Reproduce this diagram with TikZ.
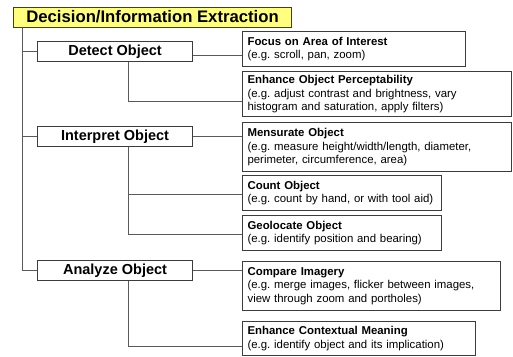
\documentclass[tikz,border=0pt]{standalone}
\usepackage{fontspec}
\setmainfont{Liberation Sans}
\frenchspacing
\definecolor{titlefill}{RGB}{255,255,125}
\definecolor{boxline}{RGB}{60,60,60}
\definecolor{wire}{RGB}{90,90,90}
\begin{document}
\begin{tikzpicture}[x=1pt,y=-1pt,
  titlebox/.style={draw=boxline,line width=1.1pt,fill=titlefill,anchor=north west,
    minimum width=278pt,minimum height=20pt,inner sep=0pt,
    font=\fontsize{16.7}{18}\selectfont\bfseries},
  stagebox/.style={draw=boxline,line width=1.1pt,fill=white,anchor=north west,
    minimum width=155pt,minimum height=20pt,inner sep=0pt,
    font=\fontsize{14.5}{16}\selectfont\bfseries},
  taskbox/.style={draw=boxline,line width=1.1pt,fill=white,anchor=north west,
    inner xsep=5pt,inner ysep=0pt,align=left,
    font=\fontsize{11.4}{13.5}\selectfont\frenchspacing},
  wireline/.style={draw=wire,line width=1.3pt}]
\useasboundingbox (0,0) rectangle (513,356);

% bold first line of every task box
\newcommand{\taskhead}[1]{\textbf{#1}}

\node[titlebox] (title) at (13,6.5) {Decision/Information Extraction};

\node[stagebox] (detect)    at (37,41)  {Detect Object};
\node[stagebox] (interpret) at (37,126) {Interpret Object};
\node[stagebox] (analyze)   at (37,260) {Analyze Object};

\node[taskbox,text width=213pt,minimum height=35pt] (focus) at (242,31)
  {\taskhead{Focus on Area of Interest}\\(e.g. scroll, pan, zoom)};
\node[taskbox,text width=259pt,minimum height=45pt] (enhance) at (242,71)
  {\taskhead{Enhance Object Perceptability}\\(e.g. adjust contrast and brightness, vary\\histogram and saturation, apply filters)};
\node[taskbox,text width=259pt,minimum height=49pt] (mensurate) at (242,122)
  {\taskhead{Mensurate Object}\\(e.g. measure height/width/length, diameter,\\perimeter, circumference, area)};
\node[taskbox,text width=189pt,minimum height=35pt] (count) at (242,175)
  {\taskhead{Count Object}\\(e.g. count by hand, or with tool aid)};
\node[taskbox,text width=189pt,minimum height=35pt] (geolocate) at (242,215)
  {\taskhead{Geolocate Object}\\(e.g. identify position and bearing)};
\node[taskbox,text width=248pt,minimum height=49pt] (compare) at (242,261)
  {\taskhead{Compare Imagery}\\(e.g. merge images, flicker between images,\\view through zoom and portholes)};
\node[taskbox,text width=223pt,minimum height=34pt] (context) at (242,321)
  {\taskhead{Enhance Contextual Meaning}\\(e.g. identify object and its implication)};

% spine from the title down to the three stages
\coordinate (spine) at (22.7,26.5);
\draw[wireline] (spine) |- (analyze.west);
\draw[wireline] (spine |- detect.west) -- (detect.west);
\draw[wireline] (spine |- interpret.west) -- (interpret.west);

% stage to task links
\draw[wireline] ([yshift=-4pt]detect.east) -- ([yshift=-4pt]detect.east -| focus.west);
\draw[wireline] ([xshift=13.5pt]detect.south) |- ([yshift=-7.5pt]enhance.west);
\draw[wireline] (interpret.east) -- (interpret.east -| mensurate.west);
\draw[wireline] ([xshift=13.5pt]interpret.south) |- ([yshift=-1.5pt]count.west);
\draw[wireline] ([xshift=13.5pt]interpret.south) |- ([yshift=-1.5pt]geolocate.west);
\draw[wireline] (analyze.east) -- (analyze.east -| compare.west);
\draw[wireline] ([xshift=13.5pt]analyze.south) |- ([yshift=-8pt]context.west);
\end{tikzpicture}
\end{document}
